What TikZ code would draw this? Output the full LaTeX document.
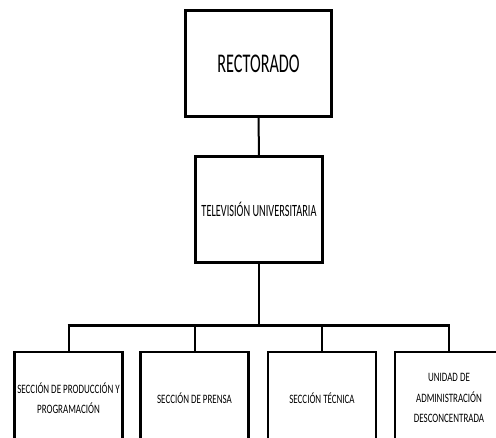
\documentclass[tikz,border=0pt]{standalone}
\usepackage{fontspec}
\newfontfamily\orgfont[FakeStretch=0.6]{Carlito}
\newfontfamily\orgsmallfont[FakeStretch=0.7]{Carlito}
\tikzset{
  unit/.style={draw=black, line width=2.6pt, fill=white, inner sep=0pt,
    align=center},
  topunit/.style={unit, minimum width=146pt, minimum height=106pt,
    font=\orgfont\fontsize{27}{30}\selectfont},
  midunit/.style={unit, minimum width=127pt, minimum height=106pt,
    font=\orgfont\fontsize{17.2}{19}\selectfont},
  subunit/.style={unit, minimum width=108pt, minimum height=92pt,
    font=\orgsmallfont\fontsize{12.8}{20.5}\selectfont},
  link/.style={draw=black, line width=2pt},
  buslink/.style={draw=black, line width=3pt},
}
\begin{document}
\begin{tikzpicture}[x=1pt, y=-1pt]
  \useasboundingbox (0,0) rectangle (496,438);
  \clip (0,0) rectangle (496,438);
  % upper levels
  \node[topunit] (rect) at (258.5,63.5) {RECTORADO};
  \node[midunit] (tv) at (259,209.5) {TELEVISIÓN UNIVERSITARIA};
  % sections
  \node[subunit] (b1) at (68.5,398) {SECCIÓN DE PRODUCCIÓN Y\\ PROGRAMACIÓN};
  \node[subunit] (b2) at (194.5,398) {SECCIÓN DE PRENSA};
  \node[subunit] (b3) at (322,398) {SECCIÓN TÉCNICA};
  \node[subunit] (b4) at (449,398) {UNIDAD DE\\ ADMINISTRACIÓN\\ DESCONCENTRADA};
  % connectors
  \coordinate (bus) at (259,326);
  \draw[link] (rect.south) -- (tv.north);
  \draw[link] (tv.south) -- (bus);
  \draw[buslink] ([xshift=-1pt]b1.north |- bus) -- ([xshift=1pt]b4.north |- bus);
  \foreach \b in {b1,b2,b3,b4} {
    \draw[link] (\b.north |- bus) -- (\b.north);
  }
\end{tikzpicture}
\end{document}
